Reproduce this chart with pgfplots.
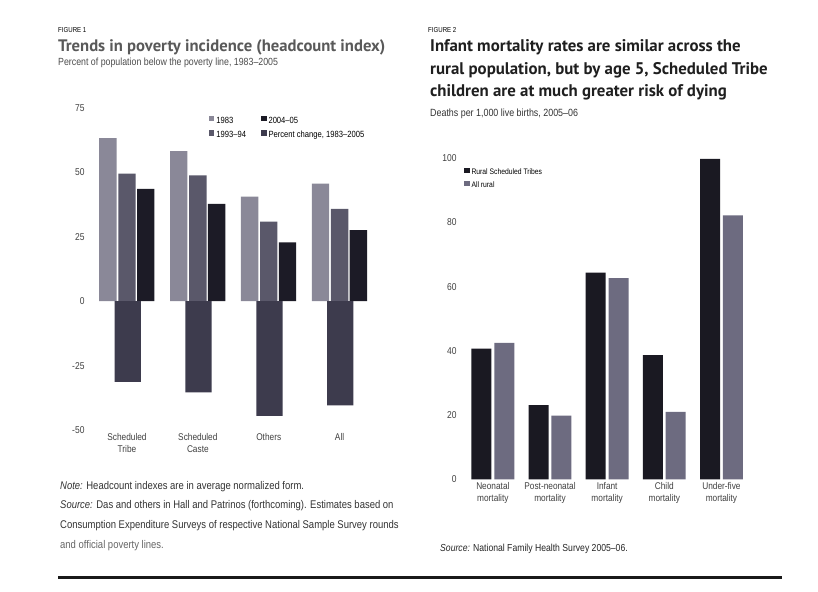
\documentclass[border=0pt]{standalone}
\usepackage{fontspec}
\setmainfont{Liberation Sans}[FakeStretch=0.85]
\newfontfamily\titlefont{PT Sans}
\usepackage{pgfplots}
\pgfplotsset{compat=1.18}

\definecolor{cA}{HTML}{8A8898}
\definecolor{cB}{HTML}{5A586A}
\definecolor{cC}{HTML}{1C1B26}
\definecolor{cD}{HTML}{3D3B4D}
\definecolor{sT}{HTML}{1A1922}
\definecolor{aR}{HTML}{6D6B80}

\pgfplotsset{
  lsq/.style={legend image code/.code={\fill[#1] (0bp,-0.5bp) rectangle (5.5bp,5bp);}},
  bars/.style={ybar, draw=none, fill=#1, lsq=#1},
  plain/.style={
    scale only axis, anchor=south west, clip=false,
    axis line style={draw=none}, major tick length=0,
    tick label style={font=\fontsize{10}{11.5}\selectfont, color=black!75},
    xticklabel style={align=center, font=\fontsize{9.8}{11.5}\selectfont},
    /pgf/number format/assume math mode=true,
  },
}

\begin{document}
\begin{tikzpicture}[x=1bp,y=1bp]
\path[use as bounding box, fill=white] (0,0) rectangle (818,592);

% ---- Figure 1 ----
\node[anchor=base west, inner sep=0, font=\fontsize{7.2}{9}\selectfont] at (58,559) {FIGURE 1};
\node[anchor=base west, inner sep=0, font=\titlefont\bfseries\fontsize{16.7}{19}\selectfont, color=black!65] at (58,540) {Trends in poverty incidence (headcount index)};
\node[anchor=base west, inner sep=0, font=\fontsize{10.4}{12}\selectfont, color=black!70] at (58,526.5) {Percent of population below the poverty line, 1983--2005};

\begin{axis}[plain,
  at={(88bp,162bp)}, width=287bp, height=322bp,
  xmin=-0.55, xmax=3.5, ymin=-50, ymax=75,
  ytick={-50,-25,0,25,50,75},
  xtick={0,1,2,3},
  xticklabels={{Scheduled\\Tribe},{Scheduled\\Caste},Others,All},
  legend columns=2, transpose legend,
  legend style={at={(0.41,0.985)}, anchor=north west, draw=none, fill=none,
    font=\fontsize{9}{10}\selectfont, row sep=2.5bp,
    /tikz/every even column/.append style={column sep=13bp}},
  legend cell align=left,
]
\addplot[bars=cA, bar width=0.245, bar shift=-0.27] coordinates {(0,63.3) (1,58.3) (2,40.6) (3,45.6)};
\addlegendentry{1983}
\addplot[bars=cB, bar width=0.245, bar shift=0] coordinates {(0,49.5) (1,48.8) (2,30.9) (3,35.8)};
\addlegendentry{1993--94}
\addplot[bars=cC, bar width=0.245, bar shift=0.265] coordinates {(0,43.6) (1,37.8) (2,22.8) (3,27.6)};
\addlegendentry{2004--05}
\addplot[bars=cD, bar width=0.37, bar shift=0.01] coordinates {(0,-31.3) (1,-35.4) (2,-44.5) (3,-40.4)};
\addlegendentry{Percent change, 1983--2005}
\end{axis}

\node[anchor=base west, inner sep=0, font=\fontsize{11.2}{13}\selectfont, color=black!80] at (60,102) {\textit{Note:} Headcount indexes are in average normalized form.};
\node[anchor=base west, inner sep=0, font=\fontsize{11.2}{13}\selectfont, color=black!80] at (60,83) {\textit{Source:} Das and others in Hall and Patrinos (forthcoming). Estimates based on};
\node[anchor=base west, inner sep=0, font=\fontsize{11.2}{13}\selectfont, color=black!80] at (60,63) {Consumption Expenditure Surveys of respective National Sample Survey rounds};
\node[anchor=base west, inner sep=0, font=\fontsize{11.2}{13}\selectfont, color=black!60] at (60,43) {and official poverty lines.};

% ---- Figure 2 ----
\node[anchor=base west, inner sep=0, font=\fontsize{7.2}{9}\selectfont] at (428,559) {FIGURE 2};
\node[anchor=base west, inner sep=0, font=\titlefont\bfseries\fontsize{16.9}{19}\selectfont, color=black!88] at (430,540) {Infant mortality rates are similar across the};
\node[anchor=base west, inner sep=0, font=\titlefont\bfseries\fontsize{16.9}{19}\selectfont, color=black!88] at (430,517.5) {rural population, but by age 5, Scheduled Tribe};
\node[anchor=base west, inner sep=0, font=\titlefont\bfseries\fontsize{16.9}{19}\selectfont, color=black!88] at (430,495) {children are at much greater risk of dying};
\node[anchor=base west, inner sep=0, font=\fontsize{10.5}{12}\selectfont, color=black!80] at (430,475) {Deaths per 1,000 live births, 2005--06};

\begin{axis}[plain,
  at={(460bp,112.7bp)}, width=290bp, height=321bp,
  xmin=-0.575, xmax=4.5, ymin=0, ymax=100,
  ytick={0,20,40,60,80,100},
  xtick={0,1,2,3,4},
  xticklabels={{Neonatal\\mortality},{Post-neonatal\\mortality},{Infant\\mortality},{Child\\mortality},{Under-five\\mortality}},
  legend style={at={(0.003,0.98)}, anchor=north west, draw=none, fill=none,
    font=\fontsize{8}{9}\selectfont, row sep=2bp},
  legend cell align=left,
]
\addplot[bars=sT, bar width=0.35, bar shift=-0.2] coordinates {(0,40.7) (1,23.1) (2,64.4) (3,38.7) (4,99.8)};
\addlegendentry{Rural Scheduled Tribes}
\addplot[bars=aR, bar width=0.35, bar shift=0.2] coordinates {(0,42.5) (1,19.8) (2,62.7) (3,21.0) (4,82.2)};
\addlegendentry{All rural}
\end{axis}

\node[anchor=base west, inner sep=0, font=\fontsize{10.2}{12}\selectfont, color=black!85] at (440,40) {\textit{Source:} National Family Health Survey 2005--06.};

\draw[line width=3bp, color=black!90] (58,14) -- (782,14);
\end{tikzpicture}
\end{document}
